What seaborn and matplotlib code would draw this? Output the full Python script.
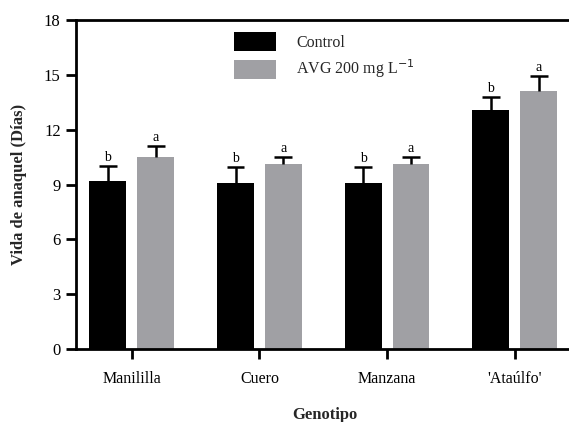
import matplotlib
matplotlib.use("Agg")
import matplotlib.pyplot as plt
import seaborn as sns
import pandas as pd
from matplotlib.patches import Patch

# Shelf life (days) per mango genotype, control vs AVG treatment
genotipos = ["Manililla", "Cuero", "Manzana", "'Ataúlfo'"]
tratamientos = ["Control", "AVG 200 mg L$^{-1}$"]
control_media = [9.2, 9.1, 9.1, 13.1]
avg_media = [10.5, 10.1, 10.1, 14.1]
control_err = [0.8, 0.85, 0.85, 0.7]
avg_err = [0.6, 0.4, 0.4, 0.85]
control_letras = ["b", "b", "b", "b"]
avg_letras = ["a", "a", "a", "a"]
y_ticks = [0, 3, 6, 9, 12, 15, 18]

df = pd.DataFrame({
    "Genotipo": genotipos * 2,
    "Tratamiento": [tratamientos[0]] * 4 + [tratamientos[1]] * 4,
    "Vida": control_media + avg_media,
})

sns.set_style("white")
serif = ["Liberation Serif", "DejaVu Serif"]
plt.rcParams["font.family"] = serif

colores = ["#000000", "#a0a0a4"]

fig = plt.figure(figsize=(5.69, 4.22), dpi=100)
ax = fig.add_axes([76 / 569, 1 - 349 / 422, 1 - 76 / 569 + 0.01, (349 - 20) / 422])

sns.barplot(data=df, x="Genotipo", y="Vida", hue="Tratamiento",
            order=genotipos, hue_order=tratamientos, palette=colores,
            width=0.75, gap=0.23, errorbar=None, legend=False,
            saturation=1, linewidth=0, ax=ax)

# One-sided (upper) error bars with significance letters
cap_half = 0.07
for cont, errs, letras in zip(ax.containers, [control_err, avg_err],
                              [control_letras, avg_letras]):
    for bar, e, letra in zip(cont.patches, errs, letras):
        xc = bar.get_x() + bar.get_width() / 2
        h = bar.get_height()
        ax.vlines(xc, h, h + e, colors="black", linewidth=1.8)
        ax.hlines(h + e, xc - cap_half, xc + cap_half, colors="black",
                  linewidth=1.8)
        ax.text(xc, h + e + 0.12, letra, ha="center", va="bottom",
                fontsize=10, color="black")

ax.set_ylim(0, 18)
ax.set_xlim(-0.4375, 3.47)
ax.set_yticks(y_ticks)
ax.set_yticklabels([str(t) for t in y_ticks])

for side in ["left", "bottom", "top"]:
    ax.spines[side].set_visible(True)
    ax.spines[side].set_linewidth(2.0)
    ax.spines[side].set_color("black")
ax.spines["right"].set_visible(False)

ax.tick_params(axis="y", which="major", direction="out", length=7, width=2,
               left=True, labelsize=12, pad=4, colors="black")
ax.tick_params(axis="x", which="major", direction="out", length=7, width=2,
               bottom=True, labelsize=11.5, pad=9, colors="black")

ax.set_xlabel("Genotipo", fontsize=12, fontweight="bold", labelpad=14)
ax.set_ylabel("Vida de anaquel (Días)", fontsize=12, fontweight="bold",
              labelpad=12)

handles = [Patch(facecolor=c, edgecolor="none") for c in colores]
ax.legend(handles, tratamientos, loc="upper left",
          bbox_to_anchor=((218 - 76) / (569 - 76), 1 + 2 / 329),
          frameon=False, fontsize=11.5, handlelength=2.6, handleheight=1.45,
          handletextpad=1.3, labelspacing=0.4)

fig.savefig("out.png", dpi=100)
